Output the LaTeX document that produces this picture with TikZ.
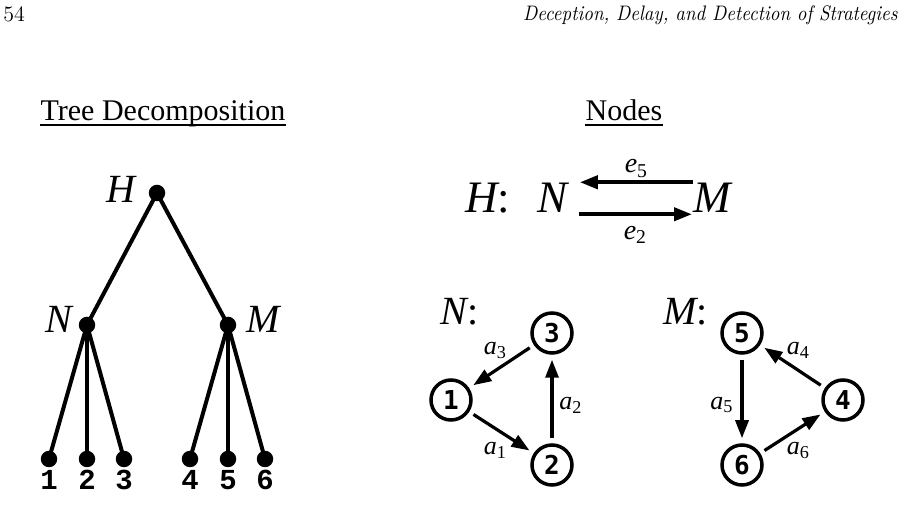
\documentclass[tikz,border=0pt]{standalone}
\usepackage{fontspec}
\newfontfamily\timesfont{Liberation Serif}
\newfontfamily\digitfont{DejaVu Sans Mono}
\newfontfamily\leaffont{Liberation Mono}
\newfontfamily\headfont{Latin Modern Roman}[FakeStretch=0.9]
\usetikzlibrary{arrows.meta}
\newcommand\sublbl[2]{\textit{#1}\textsubscript{#2}}
\tikzset{
  headtext/.style={font=\fontsize{11}{13}\selectfont, inner sep=0pt},
  paneltitle/.style={font=\timesfont\fontsize{15}{18}\selectfont, inner sep=0pt, anchor=base},
  treelabel/.style={font=\timesfont\itshape\fontsize{20}{24}\selectfont, inner sep=0pt},
  panellabel/.style={font=\timesfont\itshape\fontsize{22.5}{26}\selectfont, inner sep=0pt, anchor=base west},
  dot/.style={circle, fill=black, inner sep=0pt, minimum size=8.25pt},
  treeline/.style={line width=2pt},
  leaflabel/.style={font=\leaffont\bfseries\fontsize{14.5}{17}\selectfont, inner sep=0pt, anchor=base},
  vertex/.style={circle, draw, line width=1.75pt, minimum size=20pt, inner sep=0pt, font=\digitfont\bfseries\fontsize{13}{15}\selectfont},
  edgearrow/.style={-{Triangle[length=9pt,width=6.5pt]}, line width=1.6pt, shorten <=2.5pt, shorten >=2.5pt},
  harrow/.style={-{Triangle[length=9pt,width=6.5pt]}, line width=2pt},
  edgelabel/.style={font=\timesfont\fontsize{13}{15}\selectfont, inner sep=0pt},
  hlabel/.style={font=\timesfont\fontsize{14}{16}\selectfont, inner sep=0pt}
}

\begin{document}
\begin{tikzpicture}[x=0.5pt, y=-0.5pt]
  \useasboundingbox (0,0) rectangle (905,506);

  % running head
  \node[headtext, anchor=base west] (pagenum) at (3,22) {54};
  \node[headtext, anchor=base east] (runhead) at (898,21) {\headfont\fontsize{10.5}{12}\selectfont\itshape Deception, Delay, and Detection of Strategies};

  % left panel: tree
  \node[paneltitle] (treetitle) at (163,121) {Tree Decomposition};
  \draw[line width=1pt] ([yshift=-2.2pt]treetitle.base west) -- ([yshift=-2.2pt]treetitle.base east);

  \node[dot] (hdot) at (157,193) {};
  \node[dot] (ndot) at (87,325) {};
  \node[dot] (mdot) at (228,325) {};
  \node[treelabel, anchor=base east] (hname) at (136,203) {H};
  \node[treelabel, anchor=base east] (nname) at (73,333) {N};
  \node[treelabel, anchor=base west] (mname) at (246,333) {M};
  \draw[treeline] (hdot.center) -- (ndot.center);
  \draw[treeline] (hdot.center) -- (mdot.center);

  \foreach \x/\k/\parentdot in {49/1/ndot,87/2/ndot,124/3/ndot,190/4/mdot,228/5/mdot,265/6/mdot}{
    \node[dot] (leaf\k) at (\x,459) {};
    \node[leaflabel] (leaflbl\k) at (\x,490) {\k};
    \draw[treeline] (\parentdot.center) -- (leaf\k.center);
  }

  % right panel: nodes
  \node[paneltitle] (nodetitle) at (624,121) {Nodes};
  \draw[line width=1pt] ([yshift=-2.2pt]nodetitle.base west) -- ([yshift=-2.2pt]nodetitle.base east);

  \node[panellabel] (hhead) at (465,213) {H\upshape:};
  \node[panellabel] (hN) at (537,213) {N};
  \node[panellabel] (hM) at (693,213) {M};
  \draw[harrow] ([shift={(0,-16)}]hM.west) -- node[hlabel, midway, above=1.5pt] {\sublbl{e}{5}} ([shift={(12,-16)}]hN.east);
  \draw[harrow] ([shift={(11,16)}]hN.east) -- node[hlabel, midway, below=5pt] {\sublbl{e}{2}} ([shift={(-1,16)}]hM.west);

  \node[treelabel, anchor=base west] (nhead) at (440,325) {N\upshape:};
  \node[vertex] (v1) at (451,400) {1};
  \node[vertex] (v2) at (552,465) {2};
  \node[vertex] (v3) at (552,333) {3};
  \draw[edgearrow] (v1) -- node[edgelabel, midway, shift={(-6,18)}] {\sublbl{a}{1}} (v2);
  \draw[edgearrow] (v2) -- node[edgelabel, midway, shift={(19,6)}] {\sublbl{a}{2}} (v3);
  \draw[edgearrow] (v3) -- node[edgelabel, midway, shift={(-6,-16)}] {\sublbl{a}{3}} (v1);

  \node[treelabel, anchor=base west] (mhead) at (663,325) {M\upshape:};
  \node[vertex] (v5) at (742,333) {5};
  \node[vertex] (v4) at (843,400) {4};
  \node[vertex] (v6) at (742,465) {6};
  \draw[edgearrow] (v4) -- node[edgelabel, midway, shift={(6,-16)}] {\sublbl{a}{4}} (v5);
  \draw[edgearrow] (v5) -- node[edgelabel, midway, shift={(-20,6)}] {\sublbl{a}{5}} (v6);
  \draw[edgearrow] (v6) -- node[edgelabel, midway, shift={(6,18)}] {\sublbl{a}{6}} (v4);
\end{tikzpicture}
\end{document}
